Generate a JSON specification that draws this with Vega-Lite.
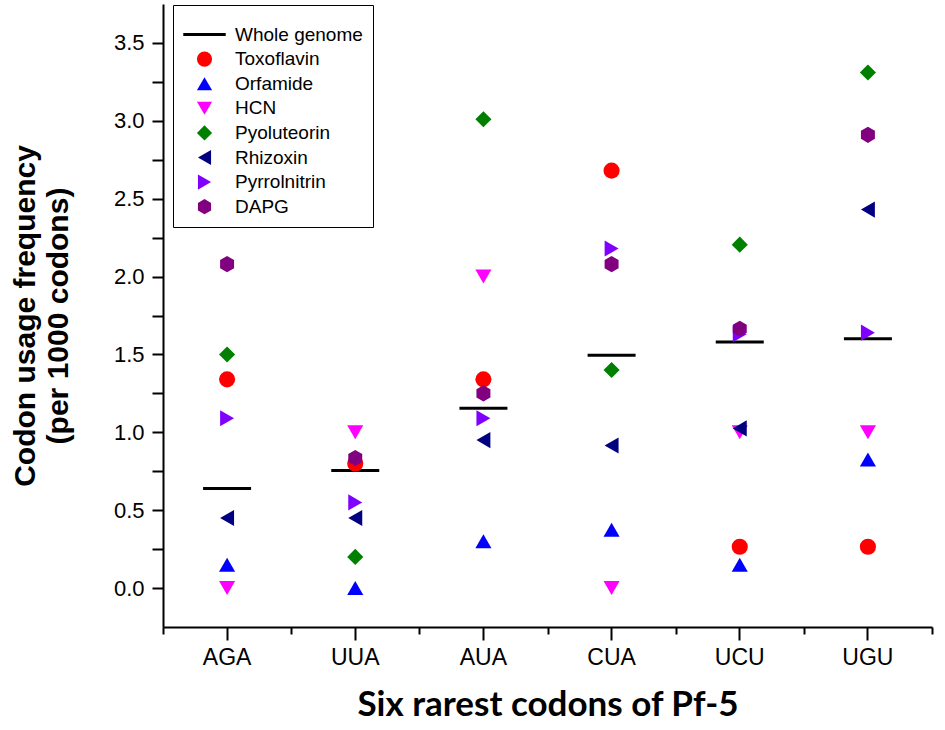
{
  "$schema": "https://vega.github.io/schema/vega-lite/v6.json",
  "description": "Codon usage frequency of the six rarest codons of Pf-5",
  "width": 769,
  "height": 623,
  "autosize": {"type": "none"},
  "padding": {"left": 163, "top": 4, "right": 13, "bottom": 103},
  "background": "white",
  "data": {
    "values": [
      {"codon": "AGA", "source": "Whole genome", "freq": 0.64},
      {"codon": "AGA", "source": "Toxoflavin", "freq": 1.34},
      {"codon": "AGA", "source": "Orfamide", "freq": 0.15},
      {"codon": "AGA", "source": "HCN", "freq": 0.0},
      {"codon": "AGA", "source": "Pyoluteorin", "freq": 1.5},
      {"codon": "AGA", "source": "Rhizoxin", "freq": 0.45},
      {"codon": "AGA", "source": "Pyrrolnitrin", "freq": 1.09},
      {"codon": "AGA", "source": "DAPG", "freq": 2.08},
      {"codon": "UUA", "source": "Whole genome", "freq": 0.755},
      {"codon": "UUA", "source": "Toxoflavin", "freq": 0.8},
      {"codon": "UUA", "source": "Orfamide", "freq": 0.0},
      {"codon": "UUA", "source": "HCN", "freq": 1.0},
      {"codon": "UUA", "source": "Pyoluteorin", "freq": 0.2},
      {"codon": "UUA", "source": "Rhizoxin", "freq": 0.45},
      {"codon": "UUA", "source": "Pyrrolnitrin", "freq": 0.55},
      {"codon": "UUA", "source": "DAPG", "freq": 0.835},
      {"codon": "AUA", "source": "Whole genome", "freq": 1.155},
      {"codon": "AUA", "source": "Toxoflavin", "freq": 1.34},
      {"codon": "AUA", "source": "Orfamide", "freq": 0.3},
      {"codon": "AUA", "source": "HCN", "freq": 2.0},
      {"codon": "AUA", "source": "Pyoluteorin", "freq": 3.01},
      {"codon": "AUA", "source": "Rhizoxin", "freq": 0.95},
      {"codon": "AUA", "source": "Pyrrolnitrin", "freq": 1.09},
      {"codon": "AUA", "source": "DAPG", "freq": 1.25},
      {"codon": "CUA", "source": "Whole genome", "freq": 1.495},
      {"codon": "CUA", "source": "Toxoflavin", "freq": 2.68},
      {"codon": "CUA", "source": "Orfamide", "freq": 0.375},
      {"codon": "CUA", "source": "HCN", "freq": 0.0},
      {"codon": "CUA", "source": "Pyoluteorin", "freq": 1.4},
      {"codon": "CUA", "source": "Rhizoxin", "freq": 0.915},
      {"codon": "CUA", "source": "Pyrrolnitrin", "freq": 2.18},
      {"codon": "CUA", "source": "DAPG", "freq": 2.08},
      {"codon": "UCU", "source": "Whole genome", "freq": 1.58},
      {"codon": "UCU", "source": "Toxoflavin", "freq": 0.265},
      {"codon": "UCU", "source": "Orfamide", "freq": 0.15},
      {"codon": "UCU", "source": "HCN", "freq": 1.0},
      {"codon": "UCU", "source": "Pyoluteorin", "freq": 2.205},
      {"codon": "UCU", "source": "Rhizoxin", "freq": 1.025},
      {"codon": "UCU", "source": "Pyrrolnitrin", "freq": 1.63},
      {"codon": "UCU", "source": "DAPG", "freq": 1.665},
      {"codon": "UGU", "source": "Whole genome", "freq": 1.6},
      {"codon": "UGU", "source": "Toxoflavin", "freq": 0.265},
      {"codon": "UGU", "source": "Orfamide", "freq": 0.825},
      {"codon": "UGU", "source": "HCN", "freq": 1.0},
      {"codon": "UGU", "source": "Pyoluteorin", "freq": 3.31},
      {"codon": "UGU", "source": "Rhizoxin", "freq": 2.43},
      {"codon": "UGU", "source": "Pyrrolnitrin", "freq": 1.64},
      {"codon": "UGU", "source": "DAPG", "freq": 2.91}
    ]
  },
  "encoding": {
    "y": {
      "field": "freq",
      "type": "quantitative",
      "scale": {"domain": [-0.25, 3.75], "nice": false, "zero": false},
      "axis": {
        "values": [0, 0.25, 0.5, 0.75, 1, 1.25, 1.5, 1.75, 2, 2.25, 2.5, 2.75, 3, 3.25, 3.5],
        "labelExpr": "datum.value % 0.5 === 0 ? format(datum.value, '.1f') : ''",
        "grid": false,
        "tickSize": 11,
        "tickWidth": 2,
        "tickColor": "black",
        "domainColor": "black",
        "domainWidth": 2,
        "labelFont": "Liberation Sans",
        "labelFontSize": 22,
        "labelColor": "black",
        "labelPadding": 8,
        "title": ["Codon usage frequency", "(per 1000 codons)"],
        "titleFont": "Liberation Sans",
        "titleFontSize": 30,
        "titleFontWeight": "bold",
        "titleLineHeight": 33,
        "titleColor": "black",
        "titlePadding": 40
      }
    }
  },
  "layer": [
    {
      "transform": [{"filter": "datum.source === 'Whole genome'"}],
      "mark": {"type": "tick", "color": "black", "thickness": 3, "size": 48, "opacity": 1},
      "encoding": {
        "x": {
          "field": "codon",
          "type": "nominal",
          "sort": ["AGA", "UUA", "AUA", "CUA", "UCU", "UGU"],
          "scale": {"type": "band", "paddingInner": 0, "paddingOuter": 0},
          "axis": {
            "orient": "bottom",
            "labelAngle": 0,
            "tickSize": 13,
            "tickWidth": 2,
            "tickColor": "black",
            "domainColor": "black",
            "domainWidth": 2,
            "labelFont": "Liberation Sans",
            "labelFontSize": 23,
            "labelColor": "black",
            "labelPadding": 6,
            "title": "Six rarest codons of Pf-5",
            "titleFont": "Lato",
            "titleFontSize": 35,
            "titleFontWeight": "bold",
            "titleColor": "black",
            "titlePadding": 18
          }
        }
      }
    },
    {
      "transform": [{"filter": "datum.source !== 'Whole genome'"}],
      "mark": {"type": "point", "filled": true, "opacity": 1, "size": 260, "strokeWidth": 0},
      "encoding": {
        "x": {
          "field": "codon",
          "type": "nominal",
          "sort": ["AGA", "UUA", "AUA", "CUA", "UCU", "UGU"],
          "scale": {"type": "band", "paddingInner": 0, "paddingOuter": 0},
          "axis": {
            "orient": "bottom",
            "tickBand": "extent",
            "tickSize": 7,
            "tickWidth": 2,
            "tickColor": "black",
            "labels": false,
            "domain": false,
            "title": null
          }
        },
        "color": {
          "field": "source",
          "type": "nominal",
          "scale": {
            "domain": ["Whole genome", "Toxoflavin", "Orfamide", "HCN", "Pyoluteorin", "Rhizoxin", "Pyrrolnitrin", "DAPG"],
            "range": ["#000000", "#FF0000", "#0000FF", "#FF00FF", "#008000", "#000080", "#8000FF", "#800080"]
          },
          "legend": {
            "orient": "none",
            "legendX": 10,
            "legendY": 1,
            "title": " ",
            "titleFontSize": 10,
            "titlePadding": 0,
            "padding": 10,
            "strokeColor": "black",
            "fillColor": "white",
            "symbolSize": 230,
            "symbolOffset": 12,
            "labelOffset": 21,
            "rowPadding": 4.6,
            "labelFont": "Liberation Sans",
            "labelFontSize": 19,
            "labelColor": "black"
          }
        },
        "shape": {
          "field": "source",
          "type": "nominal",
          "scale": {
            "domain": ["Whole genome", "Toxoflavin", "Orfamide", "HCN", "Pyoluteorin", "Rhizoxin", "Pyrrolnitrin", "DAPG"],
            "range": ["M-2.8,-0.2L2.8,-0.2L2.8,0.2L-2.8,0.2Z", "circle", "triangle-up", "triangle-down", "diamond", "triangle-left", "triangle-right", "M0,-1L0.866,-0.5L0.866,0.5L0,1L-0.866,0.5L-0.866,-0.5Z"]
          },
          "legend": {
            "orient": "none",
            "legendX": 10,
            "legendY": 1,
            "title": " ",
            "titleFontSize": 10,
            "titlePadding": 0,
            "padding": 10,
            "strokeColor": "black",
            "fillColor": "white",
            "symbolSize": 230,
            "symbolOffset": 12,
            "labelOffset": 21,
            "rowPadding": 4.6,
            "labelFont": "Liberation Sans",
            "labelFontSize": 19,
            "labelColor": "black"
          }
        }
      }
    }
  ],
  "resolve": {"axis": {"x": "independent"}},
  "config": {
    "view": {"stroke": null}
  }
}
